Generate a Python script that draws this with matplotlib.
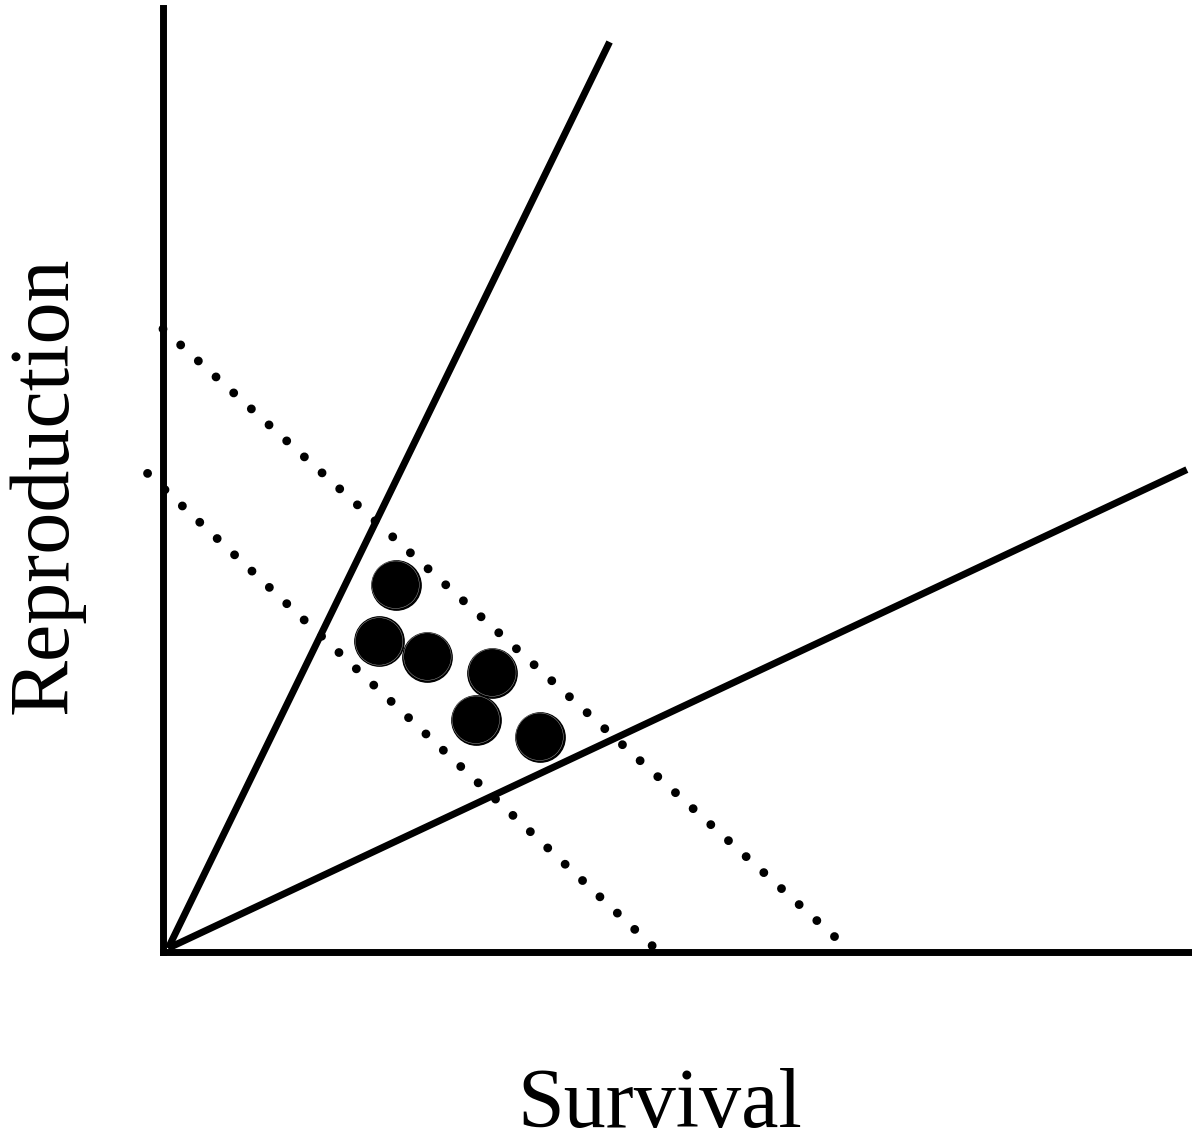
import matplotlib.pyplot as plt
import numpy as np

# Trade-off diagram: survival vs reproduction (axis units 0..10)
ray_steep_x = [0.05, 4.34]
ray_steep_y = [0.04, 9.64]
ray_shallow_x = [0.05, 9.95]
ray_shallow_y = [0.04, 5.11]

iso_upper_x = [0.0, 6.58]
iso_upper_y = [6.60, 0.11]
iso_lower_x = [-0.15, 4.78]
iso_lower_y = [5.07, 0.04]

points_x = [2.26, 2.10, 2.57, 3.20, 3.04, 3.66]
points_y = [3.89, 3.29, 3.13, 2.96, 2.46, 2.28]

x_label = "Survival"
y_label = "Reproduction"

W, H = 1192, 1142
fig = plt.figure(figsize=(W / 100, H / 100), dpi=100)
ax = fig.add_axes([163 / W, 1 - 952 / H, (W - 163) / W, (952 - 8) / H])
ax.set_xlim(0, 10)
ax.set_ylim(0, 10)

for side in ["top", "right"]:
    ax.spines[side].set_visible(False)
for side in ["left", "bottom"]:
    ax.spines[side].set_linewidth(5)
    ax.spines[side].set_capstyle("projecting")
ax.set_xticks([])
ax.set_yticks([])

# solid rays from the origin
ax.plot(ray_steep_x, ray_steep_y, color="black", lw=5, solid_capstyle="butt", clip_on=False)
ax.plot(ray_shallow_x, ray_shallow_y, color="black", lw=5, solid_capstyle="butt", clip_on=False)

# dotted iso-fitness lines
dot_lw = 6.4
for xs, ys in [(iso_upper_x, iso_upper_y), (iso_lower_x, iso_lower_y)]:
    ax.plot(xs, ys, color="black", lw=dot_lw, linestyle=(0, (0.001, 2.68)),
            dash_capstyle="round", clip_on=False)

# individuals
ax.scatter(points_x, points_y, s=35.5 ** 2, color="black", zorder=5, clip_on=False)
ax.scatter(points_x, points_y, s=34.2 ** 2, facecolor="none", edgecolor="#9a9a9a",
           linewidth=0.35, zorder=6, clip_on=False)

font = {"family": "Liberation Serif", "size": 60.5}
fig.text(660 / W, 1 - 1106 / H, x_label, ha="center", va="center", **font)
fig.text(46 / W, 1 - 485 / H, y_label, ha="center", va="center", rotation=90, **font)

fig.savefig("out.png", dpi=100)
